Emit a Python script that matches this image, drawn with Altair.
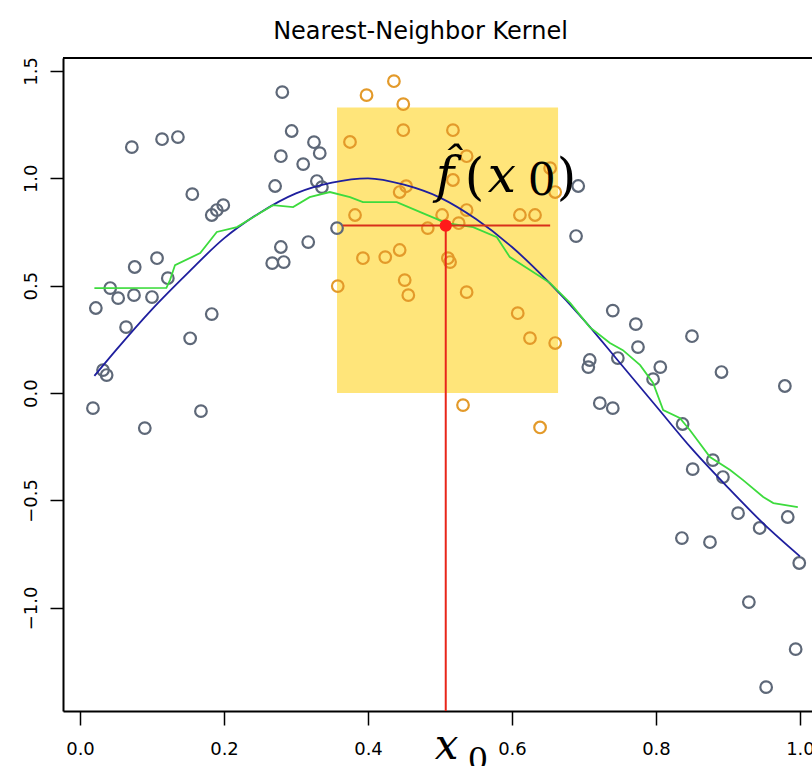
import altair as alt
import pandas as pd

# ---------------- data ----------------
gray_x = [0.281, 0.072, 0.114, 0.136, 0.294, 0.325, 0.333, 0.279, 0.310, 0.329, 0.336, 0.271,
          0.156, 0.183, 0.190, 0.199, 0.357, 0.279, 0.267, 0.283, 0.317, 0.076, 0.107, 0.122,
          0.042, 0.053, 0.075, 0.100, 0.022, 0.064, 0.183, 0.153, 0.032, 0.037, 0.018, 0.090,
          0.168,
          0.689, 0.692, 0.740, 0.772, 0.850, 0.775, 0.708, 0.706, 0.747, 0.806, 0.891, 0.979,
          0.796, 0.722, 0.740, 0.837, 0.879, 0.851, 0.893, 0.914, 0.944, 0.983, 0.836, 0.875,
          0.999, 0.929, 0.994, 0.953]
gray_y = [1.401, 1.145, 1.182, 1.192, 1.220, 1.168, 1.117, 1.103, 1.066, 0.987, 0.959, 0.964,
          0.926, 0.829, 0.852, 0.875, 0.768, 0.680, 0.605, 0.610, 0.703, 0.587, 0.628, 0.535,
          0.489, 0.442, 0.456, 0.447, 0.396, 0.307, 0.368, 0.255, 0.107, 0.084, -0.070, -0.163,
          -0.084,
          0.731, 0.964, 0.384, 0.321, 0.265, 0.214, 0.154, 0.121, 0.163, 0.121, 0.098, 0.033,
          0.065, -0.047, -0.070, -0.144, -0.312, -0.354, -0.391, -0.559, -0.628, -0.577, -0.675, -0.694,
          -0.791, -0.973, -1.192, -1.369]

orange_x = [0.436, 0.398, 0.449, 0.449, 0.375, 0.518, 0.537, 0.518, 0.653, 0.660, 0.444,
            0.453, 0.382, 0.503, 0.537, 0.611, 0.632, 0.483, 0.526, 0.511, 0.514, 0.393,
            0.424, 0.444, 0.358, 0.451, 0.456, 0.537, 0.608, 0.625, 0.660, 0.532, 0.639]
orange_y = [1.452, 1.387, 1.345, 1.224, 1.169, 1.224, 1.103, 0.992, 1.047, 0.936, 0.936,
            0.963, 0.829, 0.829, 0.852, 0.829, 0.829, 0.768, 0.791, 0.628, 0.610, 0.628,
            0.633, 0.666, 0.498, 0.526, 0.456, 0.470, 0.372, 0.256, 0.233, -0.056, -0.160]

true_x = [0.02, 0.05, 0.10, 0.15, 0.20, 0.25, 0.30, 0.35, 0.40, 0.45, 0.50,
          0.55, 0.60, 0.65, 0.70, 0.75, 0.80, 0.85, 0.90, 0.95, 1.00]
true_y = [0.08, 0.20, 0.39, 0.56, 0.72, 0.84, 0.93, 0.98, 1.00, 0.97, 0.91,
          0.81, 0.68, 0.52, 0.34, 0.14, -0.06, -0.26, -0.44, -0.61, -0.76]

knn_x = [0.020, 0.120, 0.125, 0.132, 0.167, 0.190, 0.218, 0.250, 0.268, 0.296, 0.319, 0.347,
         0.375, 0.393, 0.440, 0.476, 0.509, 0.546, 0.579, 0.597, 0.625, 0.653, 0.681, 0.708,
         0.736, 0.754, 0.778, 0.796, 0.810, 0.833, 0.847, 0.875, 0.903, 0.921, 0.949, 0.963, 0.997]
knn_y = [0.489, 0.490, 0.526, 0.596, 0.652, 0.750, 0.773, 0.838, 0.875, 0.866, 0.912, 0.936,
         0.912, 0.889, 0.889, 0.838, 0.791, 0.773, 0.726, 0.633, 0.573, 0.512, 0.419, 0.307,
         0.233, 0.200, 0.130, 0.047, -0.079, -0.116, -0.172, -0.298, -0.358, -0.405, -0.484, -0.512, -0.531]

x0 = 0.508
fhat = 0.78
nbhd_lo, nbhd_hi = 0.357, 0.664
band_top = 1.33
seg_lo, seg_hi = 0.365, 0.653

x_ticks = [0.0, 0.2, 0.4, 0.6, 0.8, 1.0]
y_ticks = [-1.0, -0.5, 0.0, 0.5, 1.0, 1.5]
x_dom = [-0.0236, 1.0167]
y_dom = [-1.48, 1.56]

# ---------------- tables ----------------
gray_df = pd.DataFrame({"x": gray_x, "y": gray_y})
orange_df = pd.DataFrame({"x": orange_x, "y": orange_y})
true_df = pd.DataFrame({"x": true_x, "y": true_y})
knn_df = pd.DataFrame({"x": knn_x, "y": knn_y})
rect_df = pd.DataFrame({"x": [nbhd_lo], "x2": [nbhd_hi], "y": [0.0], "y2": [band_top]})
vseg_df = pd.DataFrame({"x": [x0], "y": [y_dom[0]], "y2": [fhat]})
hseg_df = pd.DataFrame({"x": [seg_lo], "x2": [seg_hi], "y": [fhat]})
pt_df = pd.DataFrame({"x": [x0], "y": [fhat]})
lab_df = pd.DataFrame({"x": [x0], "y": [y_dom[0]]})

W, H = 749, 653
xs = alt.Scale(domain=x_dom, nice=False, zero=False)
ys = alt.Scale(domain=y_dom, nice=False, zero=False)
TICK_FONT = "DejaVu Sans"
MATH_FONT = "DejaVu Serif"

x_axis = alt.Axis(values=x_ticks, format=".1f", title=None, grid=False,
                  tickSize=14, tickWidth=1.5, tickColor="black",
                  domainColor="black", domainWidth=2,
                  labelFontSize=18, labelPadding=15, labelColor="black",
                  labelFont=TICK_FONT, labelFlush=False)
y_axis = alt.Axis(values=y_ticks, format=".1f", title=None, grid=False,
                  tickSize=13, tickWidth=1.5, tickColor="black",
                  domainColor="black", domainWidth=2,
                  labelFontSize=18, labelPadding=14, labelColor="black",
                  labelFont=TICK_FONT, labelAngle=270,
                  labelAlign="center", labelBaseline="alphabetic", labelFlush=False)

rect = alt.Chart(rect_df).mark_rect(color="#FFE57A").encode(
    x=alt.X("x:Q", scale=xs, axis=x_axis), x2="x2:Q",
    y=alt.Y("y:Q", scale=ys, axis=y_axis), y2="y2:Q")

gray = alt.Chart(gray_df).mark_point(shape="circle", filled=False, size=135,
                                      strokeWidth=2.2, color="#5E6878", opacity=1).encode(
    x=alt.X("x:Q", scale=xs), y=alt.Y("y:Q", scale=ys))

orange = alt.Chart(orange_df).mark_point(shape="circle", filled=False, size=135,
                                          strokeWidth=2.2, color="#E39A2A", opacity=1).encode(
    x=alt.X("x:Q", scale=xs), y=alt.Y("y:Q", scale=ys))

true_line = alt.Chart(true_df).mark_line(color="#1F1F9E", strokeWidth=1.8,
                                          interpolate="monotone").encode(
    x=alt.X("x:Q", scale=xs), y=alt.Y("y:Q", scale=ys))

knn_line = alt.Chart(knn_df).mark_line(color="#3DDB3D", strokeWidth=1.8).encode(
    x=alt.X("x:Q", scale=xs), y=alt.Y("y:Q", scale=ys))

vseg = alt.Chart(vseg_df).mark_rule(color="#E8261A", strokeWidth=2).encode(
    x=alt.X("x:Q", scale=xs), y=alt.Y("y:Q", scale=ys), y2="y2:Q")

hseg = alt.Chart(hseg_df).mark_rule(color="#D8301A", strokeWidth=2).encode(
    x=alt.X("x:Q", scale=xs), x2="x2:Q", y=alt.Y("y:Q", scale=ys))

dot = alt.Chart(pt_df).mark_point(shape="circle", filled=True, size=150,
                                   color="#FF1A1A", opacity=1).encode(
    x=alt.X("x:Q", scale=xs), y=alt.Y("y:Q", scale=ys))


def ann(df, text, size, dx, dy, italic=True):
    return alt.Chart(df).mark_text(text=text, font=MATH_FONT,
                                   fontStyle="italic" if italic else "normal",
                                   fontSize=size, align="left", baseline="alphabetic",
                                   dx=dx, dy=dy, color="black").encode(
        x=alt.X("x:Q", scale=xs), y=alt.Y("y:Q", scale=ys))


# f-hat(x0) label, pieces spread like the typeset original
fh_f = ann(pt_df, "f̂", 50, -10, -34)
fh_lp = ann(pt_df, "(", 50, 19, -32, italic=False)
fh_x = ann(pt_df, "x", 50, 42, -34)
fh_0 = ann(pt_df, "0", 44, 82, -31, italic=False)
fh_rp = ann(pt_df, ")", 50, 111, -32, italic=False)

# x0 label under the axis
x0_x = ann(lab_df, "x", 42, -11, 48)
x0_0 = ann(lab_df, "0", 32, 22, 59, italic=False)

top_border = alt.Chart(pt_df).mark_rule(color="black", strokeWidth=2).encode(
    x=alt.value(0), x2=alt.value(W), y=alt.value(0))

chart = alt.layer(rect, gray, orange, true_line, knn_line, hseg, vseg, dot,
                  fh_f, fh_lp, fh_x, fh_0, fh_rp, x0_x, x0_0, top_border).properties(
    width=W, height=H,
    title=alt.Title("Nearest-Neighbor Kernel", fontSize=24, fontWeight="normal",
                    font=TICK_FONT, color="black", anchor="middle",
                    baseline="alphabetic", dx=-17, offset=-6),
    autosize=alt.AutoSizeParams(type="none"),
    padding={"left": 63, "top": 58, "right": 0, "bottom": 55},
).configure_view(stroke=None).configure(background="white")

chart.save("out.html", embed_options={"renderer": "svg", "actions": False})
